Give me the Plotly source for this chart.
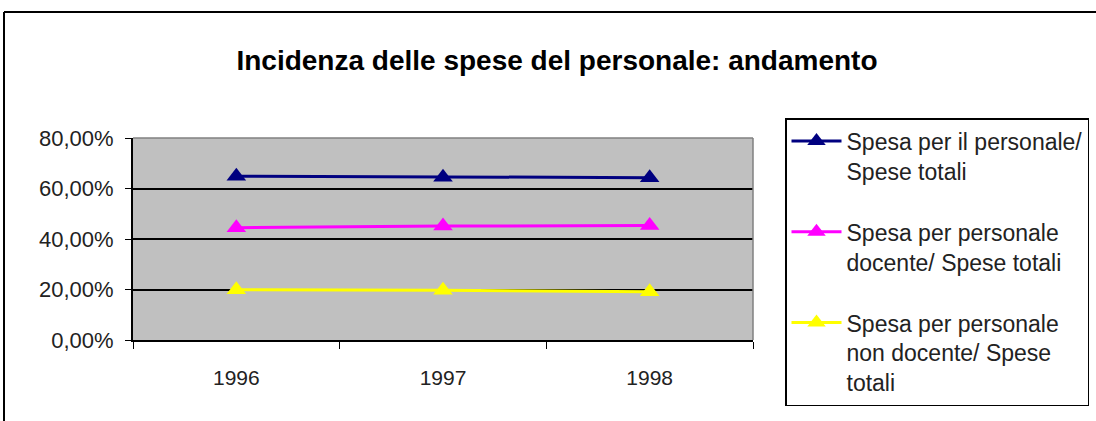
import plotly.graph_objects as go

years = ["1996", "1997", "1998"]
spesa_personale = [0.649, 0.645, 0.643]
spesa_docente = [0.445, 0.451, 0.453]
spesa_non_docente = [0.199, 0.197, 0.191]

series_names = [
    "Spesa per il personale/<br>Spese totali",
    "Spesa per personale<br>docente/ Spese totali",
    "Spesa per personale<br>non docente/ Spese<br>totali",
]
series_values = [spesa_personale, spesa_docente, spesa_non_docente]
series_colors = ["#000080", "#FF00FF", "#FFFF00"]

title_text = "Incidenza delle spese del personale: andamento"
y_ticks = [0, 0.2, 0.4, 0.6, 0.8]

FONT = "Liberation Sans, Arial, sans-serif"

fig = go.Figure()
for i, (name, vals, col) in enumerate(zip(series_names, series_values, series_colors)):
    fig.add_trace(go.Scatter(
        x=years, y=vals, name=name, mode="lines+markers",
        line=dict(color=col, width=3),
        marker=dict(symbol="triangle-up", size=17, color=col),
        legendgroup=f"g{i}",
    ))

L, R, T, B = 133, 343, 138, 81
W, H = 1096, 421
pw = W - L - R
ph = H - T - B

def px_x(p):
    return (p - L) / pw

def px_y(p):
    return (H - B - p) / ph

fig.update_layout(
    width=W, height=H,
    margin=dict(l=L, r=R, t=T, b=B, pad=0, autoexpand=False),
    paper_bgcolor="white",
    plot_bgcolor="#C0C0C0",
    separators=",.",
    title=dict(text=title_text, xref="container", x=557 / W, xanchor="center",
               yref="container", y=1 - 60 / H, yanchor="middle",
               font=dict(family=FONT, size=28, color="black", weight="bold")),
    xaxis=dict(type="category", range=[-0.5, 2.5], showgrid=False, zeroline=False,
               showline=True, linecolor="black", linewidth=2,
               ticks="outside", tickson="boundaries", ticklen=7, tickcolor="black", tickwidth=1,
               ticklabelstandoff=18,
               tickfont=dict(family=FONT, size=21, color="#222222")),
    yaxis=dict(range=[0, 0.8], tickvals=y_ticks, tickformat=".2%",
               showgrid=True, gridcolor="black", gridwidth=1.5, zeroline=False,
               showline=True, linecolor="black", linewidth=2,
               ticks="outside", ticklen=6, tickcolor="black", tickwidth=1,
               ticklabelstandoff=7,
               tickfont=dict(family=FONT, size=22, color="#222222")),
    legend=dict(x=px_x(785), xanchor="left", y=px_y(118), yanchor="top",
                bordercolor="black", borderwidth=1.5, bgcolor="white",
                font=dict(family=FONT, size=23, color="#222222"),
                tracegroupgap=28, itemwidth=50, valign="top", maxheight=400),
    showlegend=True,
    shapes=[
        dict(type="line", xref="paper", yref="paper", x0=0, x1=1, y0=1, y1=1,
             line=dict(color="#808080", width=1.5)),
        dict(type="line", xref="paper", yref="paper", x0=1, x1=1, y0=0, y1=1,
             line=dict(color="#808080", width=1.5)),
        dict(type="line", xref="paper", yref="paper", x0=px_x(4), x1=px_x(1100), y0=px_y(12), y1=px_y(12),
             line=dict(color="black", width=2)),
        dict(type="line", xref="paper", yref="paper", x0=px_x(4), x1=px_x(4), y0=px_y(12), y1=px_y(430),
             line=dict(color="black", width=2)),
    ],
)

fig.write_html("out.html", config={"displayModeBar": False},
               post_script="document.body.style.margin='0';document.body.style.overflow='hidden';")
